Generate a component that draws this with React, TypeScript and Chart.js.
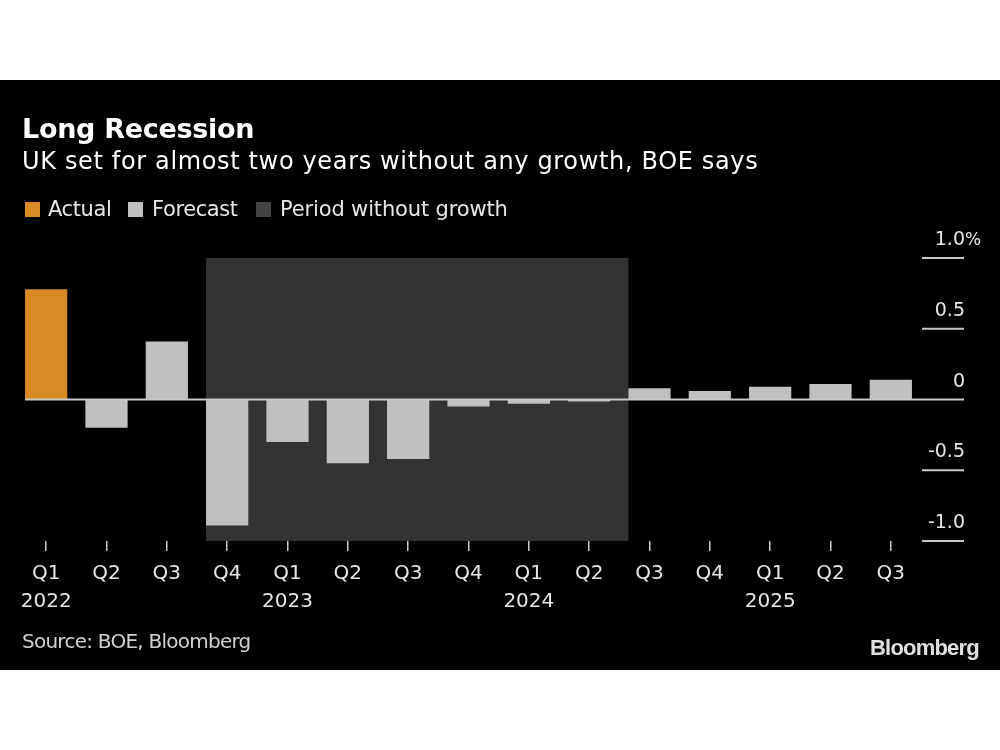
import React, { useEffect, useRef } from "react";
import { Chart, registerables } from "chart.js";

Chart.register(...registerables);

const quarters = ["Q1", "Q2", "Q3", "Q4", "Q1", "Q2", "Q3", "Q4", "Q1", "Q2", "Q3", "Q4", "Q1", "Q2", "Q3"];
const years = ["2022", "", "", "", "2023", "", "", "", "2024", "", "", "", "2025", "", ""];
const actualValues = [0.78, null, null, null, null, null, null, null, null, null, null, null, null, null, null];
const forecastValues = [null, -0.2, 0.41, -0.89, -0.3, -0.45, -0.42, -0.05, -0.03, -0.015, 0.08, 0.06, 0.09, 0.11, 0.14];
const yTickValues = [1, 0.5, 0, -0.5, -1];
const yTickLabels = ["1.0", "0.5", "0", "-0.5", "-1.0"];
const shadeStartIndex = 3;
const shadeEndIndex = 10;

const FONT = "'DejaVu Sans', 'Noto Sans', sans-serif";

const overlayPlugin = {
  id: "overlay",
  beforeDatasetsDraw(chart: any) {
    const { ctx } = chart;
    const x = chart.scales.x;
    const y = chart.scales.y;
    const bar = chart.getDatasetMeta(1).data[shadeStartIndex] as any;
    const half = bar ? bar.width / 2 : 21;
    const x0 = x.getPixelForValue(shadeStartIndex) - half;
    const x1 = x.getPixelForValue(shadeEndIndex) - half;
    const y0 = y.getPixelForValue(1);
    const y1 = y.getPixelForValue(-1);
    ctx.save();
    ctx.fillStyle = "#333333";
    ctx.fillRect(x0, y0, x1 - x0, y1 - y0);
    ctx.restore();
  },
  afterDatasetsDraw(chart: any) {
    const { ctx, chartArea } = chart;
    const x = chart.scales.x;
    const y = chart.scales.y;
    const bar = chart.getDatasetMeta(0).data[0] as any;
    const half = bar ? bar.width / 2 : 21;
    const lineRight = chartArea.right + 43;
    ctx.save();
    const yz = y.getPixelForValue(0);
    ctx.strokeStyle = "#c8c8c8";
    ctx.lineWidth = 2;
    ctx.beginPath();
    ctx.moveTo(x.getPixelForValue(0) - half, yz);
    ctx.lineTo(lineRight, yz);
    ctx.stroke();
    ctx.font = `19px ${FONT}`;
    ctx.fillStyle = "#e6e6e6";
    ctx.textBaseline = "alphabetic";
    yTickValues.forEach((v, i) => {
      const py = y.getPixelForValue(v);
      if (v !== 0) {
        ctx.beginPath();
        ctx.moveTo(chartArea.right + 1, py);
        ctx.lineTo(lineRight, py);
        ctx.stroke();
      }
      ctx.textAlign = "right";
      ctx.fillText(yTickLabels[i], lineRight + 1, py - 13);
      if (i === 0) {
        ctx.textAlign = "left";
        ctx.font = `17px ${FONT}`;
        ctx.fillText("%", lineRight + 1, py - 13);
        ctx.font = `19px ${FONT}`;
      }
    });
    ctx.restore();
  },
};

function Text(props: { x: number; baseline: number; size: number; bold?: boolean; color?: string; children: any; family?: string; spacing?: number }) {
  const { x, baseline, size, bold, color, children, family, spacing } = props;
  return (
    <div
      style={{
        position: "absolute",
        left: x,
        top: baseline - 0.846 * size,
        fontSize: size,
        lineHeight: `${size}px`,
        fontWeight: bold ? 700 : 400,
        fontFamily: family || FONT,
        color: color || "#ffffff",
        whiteSpace: "nowrap",
        letterSpacing: spacing ? `${spacing}px` : undefined,
      }}
    >
      {children}
    </div>
  );
}

function Square(props: { x: number; y: number; color: string }) {
  return (
    <div style={{ position: "absolute", left: props.x, top: props.y, width: 15, height: 15, background: props.color }} />
  );
}

export default function App() {
  const ref = useRef<HTMLCanvasElement>(null);

  useEffect(() => {
    if (!ref.current) return;
    const labels = quarters.map((q, i) => [q, years[i]]);
    const chart = new Chart(ref.current, {
      type: "bar",
      data: {
        labels,
        datasets: [
          {
            label: "Actual",
            data: actualValues as any,
            backgroundColor: "#da8a25",
            barPercentage: 0.7,
            categoryPercentage: 1.0,
          },
          {
            label: "Forecast",
            data: forecastValues as any,
            backgroundColor: "#c0c0c0",
            barPercentage: 0.7,
            categoryPercentage: 1.0,
          },
        ],
      },
      options: {
        responsive: false,
        animation: false,
        devicePixelRatio: 1,
        layout: { padding: { left: 16, right: 79, top: 258, bottom: 129 } },
        plugins: { legend: { display: false }, tooltip: { enabled: false }, title: { display: false } },
        scales: {
          x: {
            stacked: true,
            offset: true,
            grid: {
              display: true,
              offset: false,
              drawOnChartArea: false,
              drawTicks: true,
              tickLength: 10,
              color: "#cccccc",
              lineWidth: 1.5,
            },
            border: { display: false },
            ticks: {
              color: "#e6e6e6",
              font: { size: 20, family: FONT, lineHeight: 1.4 },
              padding: 9,
              maxRotation: 0,
              autoSkip: false,
            },
            afterFit: (s: any) => {
              s.height = 80;
            },
          },
          y: {
            stacked: true,
            display: false,
            min: -1,
            max: 1,
          },
        },
      },
      plugins: [overlayPlugin],
    });
    return () => chart.destroy();
  }, []);

  return (
    <div style={{ position: "fixed", left: 0, top: 0, width: 1000, height: 750, background: "#ffffff", overflow: "hidden" }}>
      <div style={{ position: "absolute", left: 0, top: 80, width: 1000, height: 590, background: "#000000" }} />
      <canvas ref={ref} width={1000} height={750} style={{ position: "absolute", left: 0, top: 0, width: 1000, height: 750 }} />
      <Text x={22} baseline={138} size={27} bold spacing={-0.3}>
        Long Recession
      </Text>
      <Text x={22} baseline={169} size={24} spacing={0.65}>
        UK set for almost two years without any growth, BOE says
      </Text>
      <Square x={25} y={202} color="#da8a25" />
      <Text x={48} baseline={217} size={21} color="#e6e6e6" spacing={-0.4}>
        Actual
      </Text>
      <Square x={128} y={202} color="#c0c0c0" />
      <Text x={152} baseline={217} size={21} color="#e6e6e6" spacing={-0.4}>
        Forecast
      </Text>
      <Square x={256} y={202} color="#444444" />
      <Text x={280} baseline={217} size={21} color="#e6e6e6" spacing={-0.15}>
        Period without growth
      </Text>
      <Text x={22} baseline={648} size={20} color="#d0d0d0" spacing={-0.75}>
        Source: BOE, Bloomberg
      </Text>
      <Text x={870} baseline={656} size={22} bold color="#e0e0e0" family="'Liberation Sans', Arial, sans-serif" spacing={-0.8}>
        Bloomberg
      </Text>
    </div>
  );
}
